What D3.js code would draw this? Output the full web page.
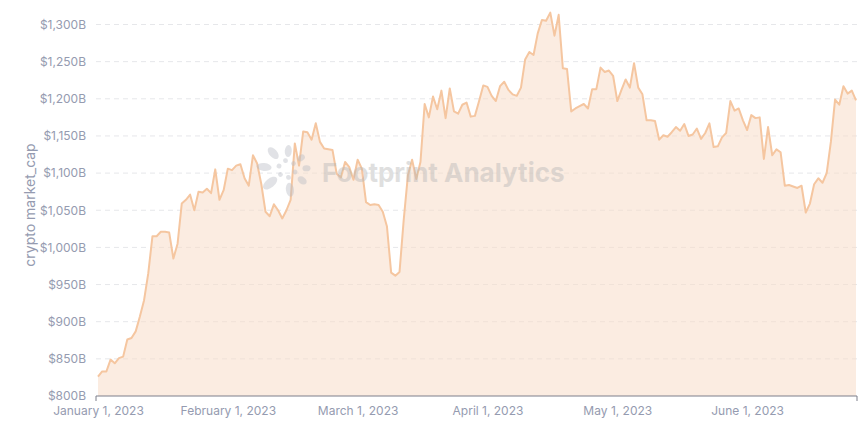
<!DOCTYPE html>
<html>
<head>
<meta charset="utf-8">
<script src="https://cdn.jsdelivr.net/npm/d3@7"></script>
<style>
  html, body { margin: 0; padding: 0; background: #ffffff; }
  svg { display: block; font-family: Inter, "Noto Sans", sans-serif; }
</style>
</head>
<body>
<svg id="chart" width="866" height="431"></svg>
<script>
// ---- data ----
const marketCap = [
  826, 833, 833, 849, 844, 851, 853, 876, 878, 887,
  907, 929, 965, 1015, 1015, 1021, 1021, 1020, 985, 1005,
  1059, 1064, 1071, 1050, 1075, 1074, 1079, 1073, 1105, 1064,
  1077, 1106, 1104, 1110, 1112, 1093, 1083, 1124, 1113, 1085,
  1048, 1042, 1058, 1050, 1039, 1050, 1064, 1140, 1110, 1156,
  1155, 1145, 1167, 1142, 1133, 1132, 1131, 1099, 1094, 1115,
  1108, 1091, 1118, 1106, 1061, 1057, 1058, 1057, 1048, 1028,
  966, 962, 967, 1037, 1097, 1118, 1092, 1115, 1193, 1175,
  1203, 1186, 1211, 1174, 1214, 1183, 1180, 1192, 1195, 1176,
  1177, 1197, 1218, 1216, 1204, 1197, 1217, 1223, 1212, 1206,
  1204, 1215, 1253, 1263, 1259, 1288, 1306, 1305, 1316, 1285,
  1313, 1241, 1240, 1183, 1187, 1190, 1193, 1187, 1213, 1213,
  1242, 1236, 1238, 1231, 1197, 1212, 1226, 1215, 1248, 1215,
  1206, 1171, 1171, 1170, 1145, 1151, 1149, 1155, 1162, 1157,
  1166, 1150, 1152, 1160, 1146, 1154, 1167, 1135, 1136, 1148,
  1154, 1197, 1184, 1187, 1171, 1158, 1178, 1174, 1175, 1119,
  1162, 1124, 1132, 1128, 1083, 1084, 1082, 1080, 1083, 1047,
  1059, 1085, 1093, 1087, 1100, 1142, 1199, 1192, 1217, 1207,
  1211, 1198
];
const categories = marketCap.map((_, i) => i);
const xTickCategories = [0, 31, 62, 93, 124, 155];
const xTickLabels = ["January 1, 2023", "February 1, 2023", "March 1, 2023", "April 1, 2023", "May 1, 2023", "June 1, 2023"];
const yTicks = [800, 850, 900, 950, 1000, 1050, 1100, 1150, 1200, 1250, 1300];
const yTitle = "crypto market_cap";
const watermark = "Footprint Analytics";

// ---- layout ----
const svg = d3.select("#chart");
const plotLeft = 96, plotRight = 857, plotBottom = 396;
const x = d3.scalePoint().domain(categories).range([98, 856]);
const y = d3.scaleLinear().domain([800, 1300]).range([plotBottom, 24.5]);
const textColor = "#959bb0";

// gridlines
svg.append("g").selectAll("line")
  .data(yTicks.filter(d => d !== 800))
  .join("line")
  .attr("x1", plotLeft).attr("x2", plotRight)
  .attr("y1", d => y(d)).attr("y2", d => y(d))
  .attr("stroke", "#e6e7ea").attr("stroke-width", 1)
  .attr("stroke-dasharray", "5,4");

// y axis labels
const yAxis = d3.axisLeft(y).tickValues(yTicks)
  .tickFormat(d => "$" + d3.format(",")(d) + "B")
  .tickSize(0).tickPadding(10);
const gy = svg.append("g").attr("transform", `translate(${plotLeft},0)`).call(yAxis);
gy.select(".domain").remove();
gy.selectAll("text").attr("fill", textColor).style("font-size", "12px")
  .style("font-family", "Inter, 'Noto Sans', sans-serif");

// y title
svg.append("text")
  .attr("transform", "translate(35,205) rotate(-90)")
  .attr("text-anchor", "middle")
  .attr("fill", textColor)
  .style("font-size", "14px")
  .text(yTitle);

// area + line
const area = d3.area().x((d, i) => x(i)).y0(plotBottom).y1(d => y(d));
const line = d3.line().x((d, i) => x(i)).y(d => y(d));
svg.append("path").datum(marketCap).attr("d", area)
  .attr("fill", "#f8dcc8").attr("fill-opacity", 0.55);
svg.append("path").datum(marketCap).attr("d", line)
  .attr("fill", "none").attr("stroke", "#f5c6a0").attr("stroke-width", 2)
  .attr("stroke-linejoin", "round");

// watermark (on top, semi-transparent)
const wm = svg.append("g").attr("opacity", 0.42);
const logo = wm.append("g").attr("transform", "translate(287,169)");
const petals = [
  {a: 185, r: 23, rx: 7.5, ry: 4}, {a: 229, r: 21, rx: 7, ry: 4}, {a: 274, r: 18, rx: 6, ry: 3.5},
  {a: 322, r: 18, rx: 4, ry: 3}, {a: 358, r: 19.5, rx: 4, ry: 3}, {a: 37, r: 19, rx: 5, ry: 3.5},
  {a: 82, r: 21, rx: 7, ry: 4}, {a: 140, r: 22, rx: 8.5, ry: 4.5}
];
logo.selectAll("ellipse").data(petals).join("ellipse")
  .attr("transform", d => `rotate(${d.a}) translate(${d.r},0)`)
  .attr("rx", d => d.rx).attr("ry", d => d.ry).attr("fill", "#b8bcc4");
logo.selectAll("circle").data([200, 260, 320, 20, 80, 140]).join("circle")
  .attr("transform", d => `rotate(${d}) translate(8.5,0)`)
  .attr("r", 2.4).attr("fill", "#b8bcc4");
wm.append("text")
  .attr("x", 322).attr("y", 182)
  .attr("fill", "#b5b5b5")
  .style("font-size", "26px").style("font-weight", "700")
  .style("font-family", "Inter, 'Noto Sans', sans-serif")
  .text(watermark);

// x axis
const xAxis = d3.axisBottom(x).tickValues(xTickCategories)
  .tickFormat((d, i) => xTickLabels[i]).tickSize(0).tickPadding(10);
const gx = svg.append("g").attr("transform", `translate(0,${plotBottom})`).call(xAxis);
gx.select(".domain").remove();
gx.selectAll("text").attr("fill", textColor).style("font-size", "12px")
  .style("font-family", "Inter, 'Noto Sans', sans-serif");
gx.append("path")
  .attr("d", `M${plotLeft},5V0H${plotRight}V5`)
  .attr("fill", "none").attr("stroke", "#7d7f8a").attr("stroke-width", 1);
</script>
</body>
</html>
